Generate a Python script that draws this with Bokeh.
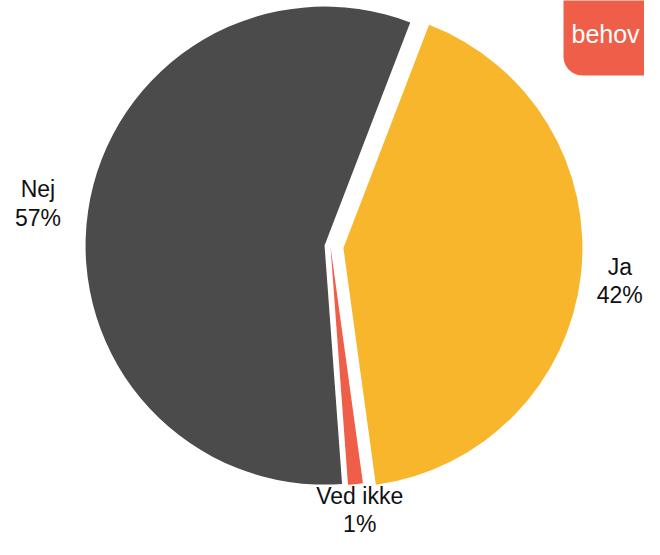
import numpy as np
from bokeh.plotting import figure
from bokeh.models import Range1d, ColumnDataSource
from bokeh.embed import file_html
from bokeh.resources import INLINE
from bokeh.core.properties import value

# ---- data ----
categories = ["Ja", "Ved ikke", "Nej"]
percents = [42, 1, 57]
colors = ["#F8B62C", "#EE5E48", "#4B4B4B"]
bubble_text = "behov"

# ---- layout ----
W, H = 644, 539
CX_S, CY_S = 330, 246           # pie centre in picture pixels
R = 239                          # radius in px
EXPLODE = [13, 0, 6]             # per-slice explode distance (px)
START_DEG = 69                   # first slice starts here (math angle), clockwise
FONT = "Liberation Sans"
LFS = 23                         # label font size px
LLH = 1.1                        # label line height

def sx(x):
    return np.asarray(x, dtype=float) - CX_S

def sy(y):
    return CY_S - np.asarray(y, dtype=float)

p = figure(width=W, height=H, output_backend="svg", toolbar_location=None,
           x_range=Range1d(-CX_S, W - CX_S),
           y_range=Range1d(CY_S - H, CY_S),
           min_border=0, outline_line_color=None)
p.axis.visible = False
p.grid.visible = False
p.background_fill_color = "white"
p.border_fill_color = "white"

vals = np.array(percents, dtype=float)
ang = vals / vals.sum() * 2 * np.pi
start0 = np.deg2rad(START_DEG)
ends = start0 - np.cumsum(ang)
starts = ends + ang
mids = (starts + ends) / 2
ex = np.array(EXPLODE, dtype=float)
cx = ex * np.cos(mids)
cy = ex * np.sin(mids)

src = ColumnDataSource(dict(cx=cx, cy=cy, start=starts, end=ends, color=colors))
p.wedge(x="cx", y="cy", radius=R, start_angle="start", end_angle="end",
        direction="clock", fill_color="color", line_color=None, source=src)

# labels: outside each slice along its bisector, kept inside the frame
labels = [f"{c}\n{v:g}%" for c, v in zip(categories, percents)]
dist = R + ex + 46 * np.abs(np.cos(mids)) + 36 * np.abs(np.sin(mids))
lx = dist * np.cos(mids)
ly = dist * np.sin(mids)
half_w = np.array([max(len(s) for s in t.split("\n")) for t in labels]) * 0.6 * LFS / 2
half_h = LFS * LLH  # two lines -> half of block
xmin, xmax = -CX_S + half_w + 4, W - CX_S - half_w - 4
ymin, ymax = CY_S - H + half_h + 4, CY_S - half_h - 4
lx = np.clip(lx, xmin, xmax)
ly = np.clip(ly, ymin, ymax)
lsrc = ColumnDataSource(dict(x=lx, y=ly, t=labels))
p.text(x="x", y="y", text="t", source=lsrc, text_font=value(FONT),
       text_font_size=f"{LFS}px", text_align="center", text_baseline="middle",
       text_line_height=LLH, text_color="#111111")

# speech bubble decoration (top-right)
t = np.linspace(0, np.pi / 2, 12)
corner_x = 582 - 19 * np.cos(t)
corner_y = 56 + 19 * np.sin(t)
bx = np.concatenate([[563, 563], corner_x, [643, 680, 680]])
by = np.concatenate([[-20, 56], corner_y, [75, 92, -20]])
p.patch(sx(bx), sy(by), fill_color="#EE5E48", line_color=None)
p.text(x=[sx(571)], y=[sy(33)], text=[bubble_text], text_font=value(FONT),
       text_font_size="25px", text_align="left", text_baseline="alphabetic",
       text_color="white")

open("out.html", "w").write(file_html(p, INLINE))
